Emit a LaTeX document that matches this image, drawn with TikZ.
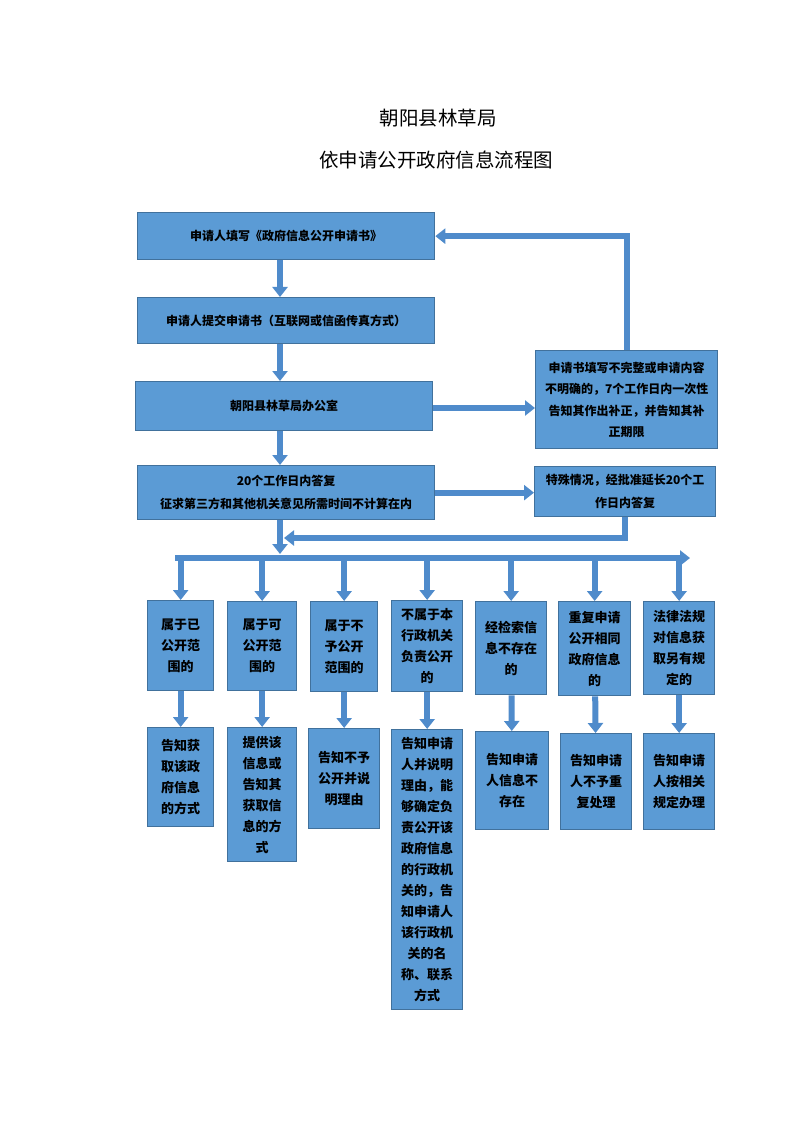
\documentclass[tikz,border=0pt]{standalone}
\usepackage{fontspec}
\setmainfont{Noto Sans CJK SC}
\usetikzlibrary{arrows.meta}
\definecolor{boxblue}{HTML}{5B9BD5}
\definecolor{boxedge}{HTML}{41719C}
\definecolor{arrowblue}{HTML}{4F8BCB}
\begin{document}
\begin{tikzpicture}[x=1pt,y=-1pt,
    box/.style={draw=boxedge, fill=boxblue, line width=1.3pt, align=center, inner sep=2pt, anchor=north west,
        font=\bfseries\fontsize{12}{22}\selectfont},
    cell/.style={box, font=\bfseries\fontsize{13}{21}\selectfont},
    flow/.style={draw=arrowblue, line width=6pt, -{Triangle[width=15pt,length=10pt]}}]
    \useasboundingbox (0,0) rectangle (800,1131);
    \node (title) at (438,118) {\fontsize{19.5}{22}\selectfont 朝阳县林草局};
    \node (subtitle) at (436,160) {\fontsize{19.5}{22}\selectfont 依申请公开政府信息流程图};
    \node[box, minimum width=297pt, minimum height=47pt] (b1) at (137,212) {申请人填写《政府信息公开申请书》};
    \node[box, minimum width=297pt, minimum height=46pt] (b2) at (137,297) {申请人提交申请书（互联网或信函传真方式）};
    \node[box, minimum width=297pt, minimum height=49pt] (b3) at (135,381) {朝阳县林草局办公室};
    \node[box, minimum width=297pt, minimum height=54pt, font=\bfseries\fontsize{12}{23}\selectfont] (b4) at (137,465)
        {20个工作日内答复\\征求第三方和其他机关意见所需时间不计算在内};
    \node[box, minimum width=182pt, minimum height=98pt, font=\bfseries\fontsize{12}{21.5}\selectfont] (ra) at (535,350)
        {申请书填写不完整或申请内容\\不明确的，7个工作日内一次性\\告知其作出补正，并告知其补\\正期限};
    \node[box, minimum width=181pt, minimum height=50pt, font=\bfseries\fontsize{12}{23}\selectfont] (rb) at (534,466)
        {特殊情况，经批准延长20个工\\作日内答复};
    \node[cell, minimum width=66pt, minimum height=90pt] (t1) at (147,600) {属于已\\公开范\\围的};
    \node[cell, minimum width=69pt, minimum height=89pt] (t2) at (227,601) {属于可\\公开范\\围的};
    \node[cell, minimum width=67pt, minimum height=90pt] (t3) at (310,601) {属于不\\予公开\\范围的};
    \node[cell, minimum width=71pt, minimum height=91pt] (t4) at (391,600) {不属于本\\行政机关\\负责公开\\的};
    \node[cell, minimum width=71pt, minimum height=93pt] (t5) at (475,601) {经检索信\\息不存在\\的};
    \node[cell, minimum width=72pt, minimum height=94pt] (t6) at (558,601) {重复申请\\公开相同\\政府信息\\的};
    \node[cell, minimum width=71pt, minimum height=93pt] (t7) at (643,601) {法律法规\\对信息获\\取另有规\\定的};
    \node[cell, minimum width=66pt, minimum height=99pt] (u1) at (147,727) {告知获\\取该政\\府信息\\的方式};
    \node[cell, minimum width=69pt, minimum height=134pt] (u2) at (227,727) {提供该\\信息或\\告知其\\获取信\\息的方\\式};
    \node[cell, minimum width=71pt, minimum height=100pt] (u3) at (308,728) {告知不予\\公开并说\\明理由};
    \node[cell, minimum width=71pt, minimum height=280pt] (u4) at (391,729)
        {告知申请\\人并说明\\理由，能\\够确定负\\责公开该\\政府信息\\的行政机\\关的，告\\知申请人\\该行政机\\关的名\\称、联系\\方式};
    \node[cell, minimum width=73pt, minimum height=98pt] (u5) at (475,731) {告知申请\\人信息不\\存在};
    \node[cell, minimum width=71pt, minimum height=96pt] (u6) at (560,733) {告知申请\\人不予重\\复处理};
    \node[cell, minimum width=71pt, minimum height=96pt] (u7) at (643,733) {告知申请\\人按相关\\规定办理};
    \coordinate (hub) at (280,554);
    \coordinate (ret) at (284,538);
    \coordinate (barL) at (175,558);
    \coordinate (barR) at (690,558);
    \draw[flow] (b1.south -| hub) -- (b2.north -| hub);
    \draw[flow] (b2.south -| hub) -- (b3.north -| hub);
    \draw[flow] (b3.south -| hub) -- (b4.north -| hub);
    \draw[flow] (b4.south -| hub) -- (hub);
    \draw[flow] (b3.east |- 0,408) -- (ra.west |- 0,408);
    \draw[flow] (b4.east) -- (b4.east -| rb.west);
    \draw[flow] (ra.north) |- (b1.east);
    \draw[flow] (rb.south) |- (ret);
    \draw[flow] (barL) -- (barR);
    \draw[flow] (t1.north |- barL) -- (t1.north);
    \draw[flow] (t2.north |- barL) -- (t2.north);
    \draw[flow] (t3.north |- barL) -- (t3.north);
    \draw[flow] (t4.north |- barL) -- (t4.north);
    \draw[flow] (t5.north |- barL) -- (t5.north);
    \draw[flow] (t6.north |- barL) -- (t6.north);
    \draw[flow] (t7.north |- barL) -- (t7.north);
    \draw[flow] (t1) -- (u1);
    \draw[flow] (t2) -- (u2);
    \draw[flow] (t3) -- (u3);
    \draw[flow] (t4) -- (u4);
    \draw[flow] (t5) -- (u5);
    \draw[flow] (t6) -- (u6);
    \draw[flow] (t7) -- (u7);
\end{tikzpicture}
\end{document}
